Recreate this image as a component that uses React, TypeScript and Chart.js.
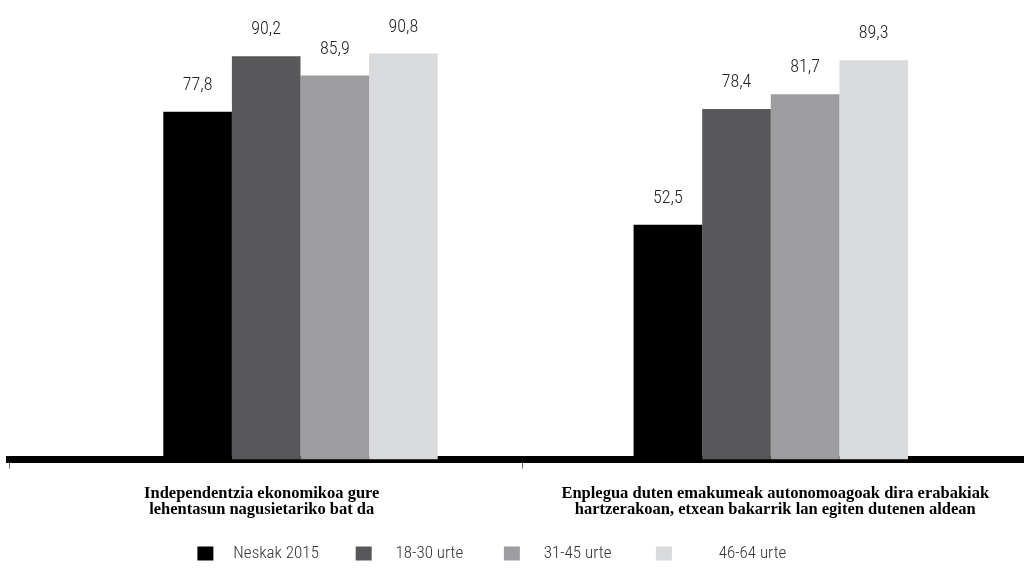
import React, { useEffect, useRef } from 'react';
import { Chart, registerables } from 'chart.js';

Chart.register(...registerables);

const categories: string[][] = [
  ['Independentzia ekonomikoa gure', 'lehentasun nagusietariko bat da'],
  ['Enplegua duten emakumeak autonomoagoak dira erabakiak', 'hartzerakoan, etxean bakarrik lan egiten dutenen aldean'],
];
const seriesNames = ['Neskak 2015', '18-30 urte', '31-45 urte', '46-64 urte'];
const neskak2015 = [77.8, 52.5];
const urte18_30 = [90.2, 78.4];
const urte31_45 = [85.9, 81.7];
const urte46_64 = [90.8, 89.3];
const seriesColors = ['#000000', '#58585a', '#9d9d9f', '#d9dadc'];

const NUM_FONT = '"Liberation Sans Narrow", "Arial Narrow", "Roboto Condensed", Roboto, sans-serif';
const LABEL_FONT = '"Liberation Serif", "Times New Roman", serif';

// spaces used only to reproduce the legend's uneven gaps
const legendLead = [3, 4, 4, 10];
const legendTrail = [7, 8, 9, 16];

const valueLabelPlugin = {
  id: 'valueLabels',
  afterDatasetsDraw(chart: any) {
    const ctx = chart.ctx;
    ctx.save();
    ctx.font = `300 18px ${NUM_FONT}`;
    ctx.fillStyle = '#222222';
    ctx.textAlign = 'center';
    ctx.textBaseline = 'alphabetic';
    chart.data.datasets.forEach((ds: any, i: number) => {
      const meta = chart.getDatasetMeta(i);
      meta.data.forEach((el: any, j: number) => {
        const v = ds.data[j] as number;
        ctx.fillText(v.toFixed(1).replace('.', ','), el.x, el.y - 22);
      });
    });
    ctx.restore();
  },
};

export default function App() {
  const ref = useRef<HTMLCanvasElement | null>(null);
  useEffect(() => {
    if (!ref.current) return;
    const series = [neskak2015, urte18_30, urte31_45, urte46_64];
    const chart = new Chart(ref.current, {
      type: 'bar',
      data: {
        labels: categories as any,
        datasets: series.map((d, i) => ({
          label: seriesNames[i],
          data: d,
          backgroundColor: seriesColors[i],
          borderWidth: 0,
          categoryPercentage: 0.5835,
          barPercentage: 1.0,
        })),
      },
      options: {
        responsive: false,
        animation: false,
        devicePixelRatio: 1,
        layout: { padding: { left: 9, right: 4, top: 12.5, bottom: 8 } },
        scales: {
          x: { type: 'category', display: false },
          x2: {
            type: 'category',
            position: 'bottom',
            fullSize: true,
            offset: true,
            grid: {
              display: true,
              offset: true,
              drawOnChartArea: false,
              drawTicks: true,
              tickLength: 9,
              color: '#666666',
              lineWidth: 1,
            },
            border: { display: true, width: 7, color: '#000000' },
            ticks: {
              autoSkip: false,
              maxRotation: 0,
              minRotation: 0,
              padding: 17.5,
              labelOffset: -4,
              color: '#000000',
              font: { family: LABEL_FONT, size: 16.5, weight: 'bold', lineHeight: 0.97 },
            },
            afterFit: (scale: any) => { scale.height = 75.5; },
          } as any,
          y: {
            type: 'linear',
            min: 0,
            max: 100,
            display: true,
            ticks: { display: false },
            grid: { display: false },
            border: { display: false },
            afterFit: (scale: any) => { scale.width = 56.35; },
          },
          y2: {
            type: 'linear',
            position: 'right',
            display: true,
            ticks: { display: false },
            grid: { display: false },
            border: { display: false },
            afterFit: (scale: any) => { scale.width = 30.05; },
          },
        },
        plugins: {
          tooltip: { enabled: false },
          legend: {
            display: true,
            position: 'bottom',
            labels: {
              boxWidth: 16,
              boxHeight: 14,
              padding: 10,
              color: '#333333',
              font: { family: NUM_FONT, size: 17, weight: 300 },
              generateLabels: (c: any) => {
                const items = Chart.defaults.plugins.legend.labels.generateLabels(c);
                return items.map((it: any, i: number) => ({
                  ...it,
                  lineWidth: 0,
                  text: ' '.repeat(legendLead[i]) + it.text + ' '.repeat(legendTrail[i]),
                }));
              },
            },
          },
        },
      } as any,
      plugins: [valueLabelPlugin],
    });
    return () => chart.destroy();
  }, []);
  return (
    <div style={{ position: 'fixed', left: 0, top: 0, width: 1024, height: 580, overflow: 'hidden', background: '#ffffff' }}>
      <canvas ref={ref} width={1040} height={580} style={{ display: 'block' }} />
    </div>
  );
}
